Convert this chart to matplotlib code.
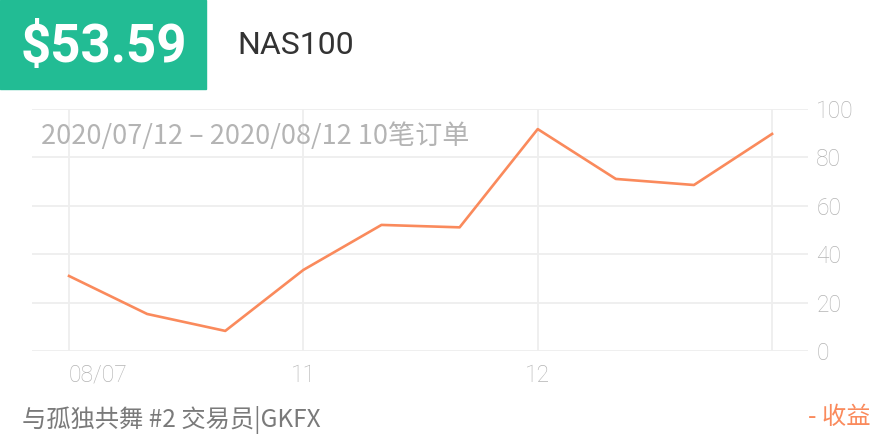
import matplotlib.pyplot as plt
from matplotlib.patches import Rectangle

plt.rcParams['font.family'] = ['Noto Sans CJK SC', 'DejaVu Sans']

# data
profit = [31.0, 15.3, 8.3, 33.5, 52.1, 51.1, 91.7, 71.1, 68.6, 89.7]
x_ticks = [0, 3, 6, 9]
x_labels = ["08/07", "11", "12", ""]
y_ticks = [0, 20, 40, 60, 80, 100]

price = "$53.59"
symbol = "NAS100"
period = "2020/07/12 – 2020/08/12 10笔订单"
footer = "与孤独共舞 #2 交易员|GKFX"
legend_label = "- 收益"

line_color = "#FA8A5C"
grid_color = "#EEEEEE"
label_color = "#B4B4B4"

fig = plt.figure(figsize=(8.8, 4.4), dpi=100)
ax = fig.add_axes([32 / 880, 1 - 351 / 440, 776 / 880, 242 / 440])

ax.plot(range(len(profit)), profit, color=line_color, linewidth=1.9, zorder=3)
ax.set_xlim(-0.474, 9.46)
ax.set_ylim(0, 100)

ax.set_xticks(x_ticks)
ax.set_xticklabels(x_labels)
ax.set_yticks(y_ticks)
ax.yaxis.tick_right()
ax.grid(True, color=grid_color, linewidth=1.3)
ax.tick_params(length=0, colors=label_color, labelsize=16.5)
ax.tick_params(axis='x', pad=9)
ax.tick_params(axis='y', pad=6)
for lbl in ax.get_xticklabels() + ax.get_yticklabels():
    lbl.set_fontfamily(['Roboto', 'DejaVu Sans'])
    lbl.set_fontweight('light')
# first date label starts at its tick, like the original
ax.get_xticklabels()[0].set_horizontalalignment('left')
for s in ax.spines.values():
    s.set_visible(False)

# header
fig.patches.append(Rectangle((0, 1 - 89 / 440), 206 / 880, 89 / 440,
                             transform=fig.transFigure, color="#22BC94", zorder=0))
fig.text(104 / 880, 1 - 47 / 440, price, color="white", fontsize=38,
         fontweight='bold', family=['Roboto', 'DejaVu Sans'],
         ha='center', va='center')
fig.text(237 / 880, 1 - 46 / 440, symbol, color="#333333", fontsize=23,
         family=['Roboto', 'DejaVu Sans'], ha='left', va='center')

fig.text(41 / 880, 1 - 136 / 440, period, color=label_color, fontsize=19.5,
         ha='left', va='center')

fig.text(22 / 880, 1 - 420 / 440, footer, color="#7A7A7A", fontsize=17.5,
         ha='left', va='center')
fig.text(870 / 880, 1 - 417 / 440, legend_label, color=line_color, fontsize=17.5,
         ha='right', va='center')

fig.savefig("out.png", dpi=100)
